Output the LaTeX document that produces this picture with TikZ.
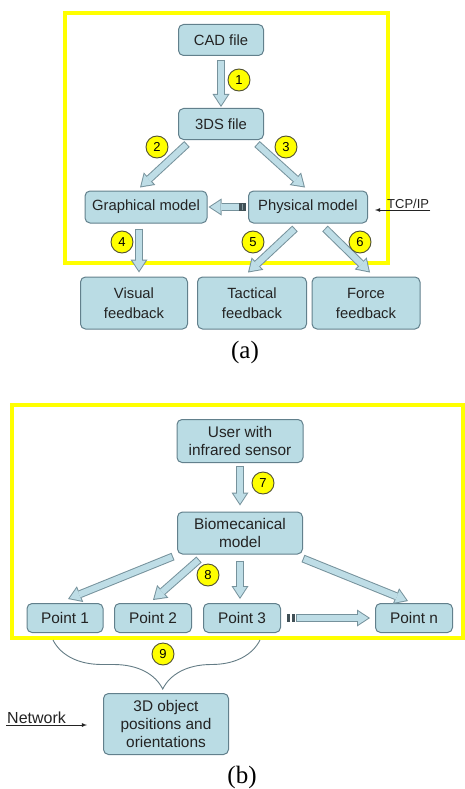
\documentclass[tikz,border=0pt]{standalone}
\usepackage{fontspec}
\setmainfont{Liberation Sans}
\newfontfamily\capfont{Liberation Serif}
\usetikzlibrary{arrows.meta,decorations.pathreplacing}
\definecolor{boxfill}{RGB}{186,220,228}
\definecolor{boxline}{RGB}{98,128,140}
\definecolor{arrfill}{RGB}{190,221,230}
\definecolor{arrline}{RGB}{118,146,156}
\definecolor{badgeline}{RGB}{80,80,50}
\definecolor{frameyellow}{RGB}{255,255,0}
\definecolor{txt}{RGB}{35,35,35}
\begin{document}
\begin{tikzpicture}[x=1pt,y=-1pt]
	\tikzstyle{blk} = [draw=boxline, fill=boxfill, line width=1pt, rounded corners=5pt, inner sep=0pt, align=center, text=txt, font={\fontsize{14.8}{20}\selectfont}]
	\tikzstyle{blkb} = [blk, font={\fontsize{15.4}{17.5}\selectfont}]
	\tikzstyle{num} = [circle, draw=badgeline, fill=frameyellow, line width=0.9pt, minimum size=22pt, inner sep=0pt, font={\fontsize{13}{13}\selectfont}]
	\tikzstyle{fatbg} = [line width=8pt, draw=arrline, -{Triangle[length=13pt,width=17pt,line width=0pt]}]
	\tikzstyle{fatfg} = [line width=6pt, draw=arrfill, shorten <=1pt, shorten >=1.8pt, -{Triangle[length=10.2pt,width=13.4pt,line width=0pt]}]
	\tikzstyle{frame} = [draw=frameyellow, line width=4.5pt]
	\tikzstyle{tag} = [inner sep=1pt, text=txt]
	\useasboundingbox (0,0) rectangle (465,789);

	% (a)
	\draw[frame] (65,13) rectangle (388,263);
	\node[blk, minimum width=85pt, minimum height=31pt] (cad) at (221,40) {CAD file};
	\node[blk, minimum width=85pt, minimum height=31pt] (s3ds) [below of=cad, node distance=84pt] {3DS file};
	\node[blk, minimum width=122pt, minimum height=32pt] (graph) at (146,207) {Graphical model};
	\node[blk, minimum width=119pt, minimum height=32pt] (phys) at (308,207) {Physical model};
	\node[blk, minimum width=107pt, minimum height=52pt] (vis) at (134,303) {Visual\\feedback};
	\node[blk, minimum width=109pt, minimum height=52pt] (tact) at (252,303) {Tactical\\feedback};
	\node[blk, minimum width=108pt, minimum height=52pt] (force) at (366,303) {Force\\feedback};

	\coordinate (a1s) at ([yshift=-4pt]cad.south);
	\coordinate (a1t) at ([yshift=1pt]s3ds.north);
	\coordinate (a2s) at ([xshift=-34pt,yshift=-4pt]s3ds.south);
	\coordinate (a2t) at ([xshift=-6pt,yshift=3pt]graph.north);
	\coordinate (a3s) at ([xshift=36pt,yshift=-4pt]s3ds.south);
	\coordinate (a3t) at ([xshift=-3pt,yshift=3pt]phys.north);
	\coordinate (a4s) at ([xshift=-7pt,yshift=-5pt]graph.south);
	\coordinate (a4t) at ([xshift=5pt,yshift=4pt]vis.north);
	\coordinate (a5s) at ([xshift=-13pt,yshift=-5pt]phys.south);
	\coordinate (a5t) at ([xshift=-4pt,yshift=4pt]tact.north);
	\coordinate (a6s) at ([xshift=17pt,yshift=-5pt]phys.south);
	\coordinate (a6t) at ([xshift=4pt,yshift=4pt]force.north);
	\coordinate (ahs) at ([xshift=-2pt]phys.west);
	\coordinate (aht) at ([xshift=1pt]graph.east);
	\foreach \s/\t in {a1s/a1t, a2s/a2t, a3s/a3t, a4s/a4t, a5s/a5t, a6s/a6t, ahs/aht} {
		\draw[fatbg] (\s) -- (\t);
		\draw[fatfg] (\s) -- (\t);
	}
	\fill[arrline!55!black] ([xshift=-9pt,yshift=-4pt]phys.west) rectangle ([xshift=-2pt,yshift=4pt]phys.west);
	\draw[arrfill!70!black, line width=0.8pt] ([xshift=-6pt,yshift=-3pt]phys.west) -- ([xshift=-6pt,yshift=3pt]phys.west);

	\node[num] (n1) at (239,80) {1};
	\node[num] (n2) at (157,147) {2};
	\node[num] (n3) at (286,147) {3};
	\node[num] (n4) at (122,242) {4};
	\node[num] (n5) at (253,242) {5};
	\node[num] (n6) at (360,242) {6};

	\node[tag, anchor=south west, font={\fontsize{13}{13}\selectfont}] (tcp) at (386,210) {TCP/IP};
	\coordinate (tcptip) at ([xshift=7pt]phys.east);
	\draw[-latex, txt, line width=0.8pt] (tcp.south east) -- (tcptip |- tcp.south);

	\node[font={\capfont\fontsize{25}{25}\selectfont}] (capa) at (245,352) {(a)};

	% (b)
	\draw[frame] (12,405) rectangle (463,638);
	\node[blkb, minimum width=126pt, minimum height=43pt] (user) at (240,441) {User with\\infrared sensor};
	\node[blkb, minimum width=125pt, minimum height=42pt] (bio) [below of=user, node distance=92pt] {Biomecanical\\model};
	\node[blkb, minimum width=76pt, minimum height=29pt] (p1) at (65,618) {Point 1};
	\node[blkb, minimum width=77pt, minimum height=29pt] (p2) at (153,618) {Point 2};
	\node[blkb, minimum width=77pt, minimum height=29pt] (p3) at (242,618) {Point 3};
	\node[blkb, minimum width=77pt, minimum height=29pt] (pn) at (414,618) {Point n};
	\node[blkb, minimum width=125pt, minimum height=61pt, font={\fontsize{15.4}{18}\selectfont}] (obj) at (166,724) {3D object\\positions and\\orientations};

	\coordinate (b7s) at ([yshift=-3pt]user.south);
	\coordinate (b7t) at ([yshift=6pt]bio.north);
	\coordinate (b1s) at ([xshift=-4pt,yshift=-2pt]bio.south west);
	\coordinate (b1t) at ([xshift=3pt,yshift=4pt]p1.north);
	\coordinate (b2s) at ([xshift=-41pt,yshift=-5pt]bio.south);
	\coordinate (b2t) at ([yshift=3pt]p2.north);
	\coordinate (b3s) at ([yshift=-6pt]bio.south);
	\coordinate (b3t) at ([xshift=-2pt,yshift=4pt]p3.north);
	\coordinate (bns) at ([yshift=-4pt]bio.south east);
	\coordinate (bnt) at ([xshift=-6pt,yshift=2pt]pn.north);
	\coordinate (bhs) at ([xshift=15pt]p3.east);
	\coordinate (bht) at ([xshift=-5pt]pn.west);
	\foreach \s/\t in {b7s/b7t, b1s/b1t, b2s/b2t, b3s/b3t, bns/bnt, bhs/bht} {
		\draw[fatbg] (\s) -- (\t);
		\draw[fatfg] (\s) -- (\t);
	}
	\fill[arrline!55!black] ([xshift=5.5pt,yshift=-4pt]p3.east) rectangle ([xshift=8.5pt,yshift=4pt]p3.east);
	\fill[arrline!55!black] ([xshift=10.5pt,yshift=-4pt]p3.east) rectangle ([xshift=13.5pt,yshift=4pt]p3.east);

	\coordinate (brl) at ([xshift=-12pt,yshift=-7pt]p1.south);
	\coordinate (brr) at ([xshift=18pt,yshift=-7pt]p3.south);
	\draw[decorate, decoration={brace, mirror, amplitude=49pt, aspect=0.53}, draw=arrline!85!black, line width=0.9pt] (brl) -- (brr);

	\node[num] (n7) at (263,483) {7};
	\node[num] (n8) at (208,575) {8};
	\node[num] (n9) at (163,654) {9};

	\node[tag, anchor=south west, font={\fontsize{16}{16}\selectfont}] (net) at (6,725) {Network};
	\coordinate (nettip) at ([xshift=-16pt]obj.west);
	\draw[-latex, txt, line width=0.8pt] (net.south west) -- (nettip |- net.south);

	\node[font={\capfont\fontsize{25}{25}\selectfont}] (capb) at (242,777) {(b)};
\end{tikzpicture}
\end{document}
